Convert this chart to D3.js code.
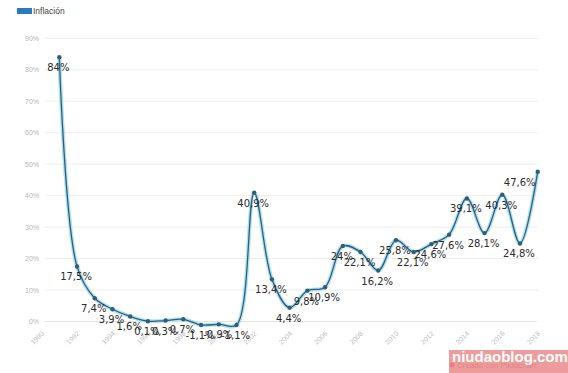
<!DOCTYPE html>
<html><head><meta charset="utf-8">
<script src="https://cdn.jsdelivr.net/npm/d3@7"></script>
<style>html,body{margin:0;padding:0;background:#fff;}svg{display:block;}</style>
</head><body>
<svg id="c" width="568" height="373"></svg>
<script>
const years = [1991,1992,1993,1994,1995,1996,1997,1998,1999,2000,2001,2002,2003,2004,2005,2006,2007,2008,2009,2010,2011,2012,2013,2014,2015,2016,2017,2018];
const inflation = [84,17.5,7.4,3.9,1.6,0.1,0.3,0.7,-1.1,-0.9,-1.1,40.9,13.4,4.4,9.8,10.9,24,22.1,16.2,25.8,22.1,24.6,27.6,39.1,28.1,40.3,24.8,47.6];
const labels = ["84%","17,5%","7,4%","3,9%","1,6%","0,1%","0,3%","0,7%","-1,1%","-0,9%","-1,1%","40,9%","13,4%","4,4%","9,8%","10,9%","24%","22,1%","16,2%","25,8%","22,1%","24,6%","27,6%","39,1%","28,1%","40,3%","24,8%","47,6%"];
const yTicks = [0,10,20,30,40,50,60,70,80,90];
const xTicks = [1990,1992,1994,1996,1998,2000,2002,2004,2006,2008,2010,2012,2014,2016,2018];
const seriesName = "Inflación";

const svg = d3.select("#c");
const x = d3.scaleLinear().domain([1990,2018]).range([41.6,537.7]);
const y = d3.scaleLinear().domain([0,90]).range([321.5,38.3]);

// grid
const g = svg.append("g");
g.selectAll("line.grid").data(yTicks).join("line")
  .attr("x1", x(1990)+3).attr("x2", x(2018))
  .attr("y1", d=>y(d)).attr("y2", d=>y(d))
  .attr("stroke", d=> d===0 ? "#e2e2e2" : "#ededed").attr("stroke-width",1);
g.selectAll("text.yl").data(yTicks).join("text")
  .attr("x", 39).attr("y", d=>y(d)+2.5)
  .attr("text-anchor","end")
  .attr("font-family","Liberation Sans, Arial, sans-serif").attr("font-size",7)
  .attr("fill","#b5b5b5").text(d=>d+"%");
g.selectAll("text.xl").data(xTicks).join("text")
  .attr("text-anchor","end")
  .attr("transform", d=>`translate(${x(d)+3},${334}) rotate(-45)`)
  .attr("font-family","Liberation Sans, Arial, sans-serif").attr("font-size",7)
  .attr("fill","#bdbdbd").text(d=>d);

// legend
svg.append("rect").attr("x",17).attr("y",8).attr("width",15).attr("height",6).attr("fill","#2a7bbd");
svg.append("text").attr("x",33).attr("y",14).attr("font-family","Liberation Sans, Arial, sans-serif")
  .attr("font-size",8.5).attr("fill","#444").text(seriesName);

// line
const data = years.map((yr,i)=>({yr, v:inflation[i], l:labels[i]}));
const line = d3.line().x(d=>x(d.yr)).y(d=>y(d.v)).curve(d3.curveCatmullRom.alpha(0.5));
svg.append("path").attr("d", line(data)).attr("fill","none")
  .attr("stroke","#a3dcf0").attr("stroke-width",4).attr("stroke-opacity",0.85);
svg.append("path").attr("d", line(data)).attr("fill","none")
  .attr("stroke","#2e5f78").attr("stroke-width",1.3);
svg.selectAll("circle.p").data(data).join("circle")
  .attr("cx", d=>x(d.yr)).attr("cy", d=>y(d.v)).attr("r",2.2).attr("fill","#2e5f78");

// labels
svg.selectAll("text.dl").data(data).join("text")
  .attr("x", (d,i)=> i===data.length-1 ? x(d.yr)-18 : x(d.yr)-1)
  .attr("y", d=>y(d.v)+14)
  .attr("text-anchor","middle")
  .attr("font-family","DejaVu Sans, sans-serif").attr("font-size",10)
  .attr("fill","#2a2a2a").text(d=>d.l);

// watermark
svg.append("circle").attr("cx",452).attr("cy",365).attr("r",2.5).attr("fill","#c0101a");
svg.append("text").attr("x",457).attr("y",368).attr("font-family","Liberation Sans, Arial, sans-serif")
  .attr("font-size",8).attr("fill","#8a2a2a").text("Creado con Piktochart");
svg.append("rect").attr("x",449).attr("y",350).attr("width",119).attr("height",23)
  .attr("fill","#ea8e8e").attr("fill-opacity",0.88);
svg.append("text").attr("x",452).attr("y",362).attr("font-family","Liberation Sans, Arial, sans-serif")
  .attr("font-weight","bold").attr("font-size",15).attr("fill","#fff").text("niudaoblog.com");
</script>
</body></html>
